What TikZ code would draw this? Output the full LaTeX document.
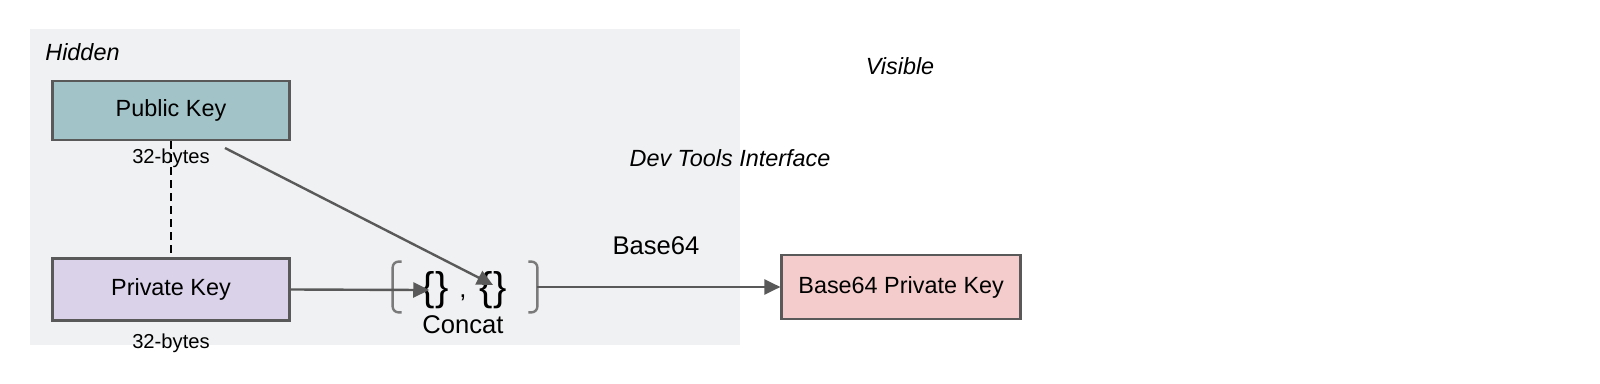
\documentclass[tikz,border=0pt]{standalone}
\usepackage{fontspec}
\setmainfont{Liberation Sans}
\usepackage{xcolor}
\usetikzlibrary{arrows.meta}
\usetikzlibrary{positioning}
\definecolor{edge}{HTML}{595959}
\definecolor{hiddenbg}{HTML}{F0F1F2}
\definecolor{pubfill}{HTML}{A2C4C9}
\definecolor{privfill}{HTML}{D9D2E9}
\definecolor{encfill}{HTML}{F4CCCC}
\newcommand{\mainsz}{\fontsize{11.7}{14}\selectfont}
\tikzset{
  keybox/.style={draw=edge, line width=1.25pt, fill=#1, minimum width=118.5pt, minimum height=29.5pt, inner sep=2pt, font=\mainsz},
  sizetag/.style={font=\fontsize{10.1}{12}\selectfont, inner sep=1pt},
  zone/.style={font=\mainsz\itshape, inner sep=0pt},
  biglabel/.style={font=\fontsize{12.8}{15}\selectfont, inner sep=0pt},
  brace/.style={font=\fontsize{20}{22}\selectfont, inner sep=0pt},
  flow/.style={-{Triangle[length=8pt,width=7.5pt]}, line width=1.2pt, draw=edge},
  grpbracket/.style={draw=edge!80, line width=1.2pt, rounded corners=3pt},
}
\begin{document}
\begin{tikzpicture}[x=0.5pt, y=-0.5pt]
  \useasboundingbox (0,0) rectangle (1600,384);
  % hidden area
  \fill[hiddenbg] (30,29) rectangle (740,345);
  \node[zone, anchor=base west] (hid) at (45,61) {Hidden};
  \node[zone, anchor=base] (vis) at (900,75) {Visible};
  \node[zone, anchor=base] (dev) at (730,167) {Dev Tools Interface};

  % keys
  \node[keybox=privfill, minimum height=31pt] (priv) at (171,289.5) {Private Key};
  \node[keybox=pubfill, above=58pt of priv] (pub) {Public Key};
  \node[sizetag, below=2.5pt of pub] (pubsz) {32-bytes};
  \node[sizetag, below=5pt of priv] (privsz) {32-bytes};
  \draw[line width=1.1pt, dash pattern=on 4pt off 2.5pt] (pub.south) -- (priv.north);

  % concat
  \node[minimum width=72pt, minimum height=25pt, inner sep=0pt] (grp) at (465,287) {};
  \draw[grpbracket] ([xshift=4.5pt]grp.north west) -- (grp.north west) -- (grp.south west) -- ([xshift=4.5pt]grp.south west);
  \draw[grpbracket] ([xshift=-4.5pt]grp.north east) -- (grp.north east) -- (grp.south east) -- ([xshift=-4.5pt]grp.south east);
  \node[brace] (br1) at (435,290) {\{\}};
  \node[biglabel, anchor=base] (cm) at (463,298) {,};
  \node[brace] (br2) at (493,290) {\{\}};
  \node[biglabel, anchor=base] (cat) at (463,334) {Concat};
  \coordinate (pubout) at (225,148);
  \draw[flow, shorten >=-4pt] (priv.east) -- (br1.west);
  \draw[flow] (pubout) -- ([yshift=-7pt]br2.north);

  % encoded key
  \node[keybox=encfill, minimum width=119.5pt, minimum height=32pt, right=121.5pt of grp] (b64) {Base64 Private Key};
  \node[biglabel, anchor=base] (enc) at (656,255) {Base64};
  \draw[flow] (grp.east) -- (b64.west);
\end{tikzpicture}
\end{document}
